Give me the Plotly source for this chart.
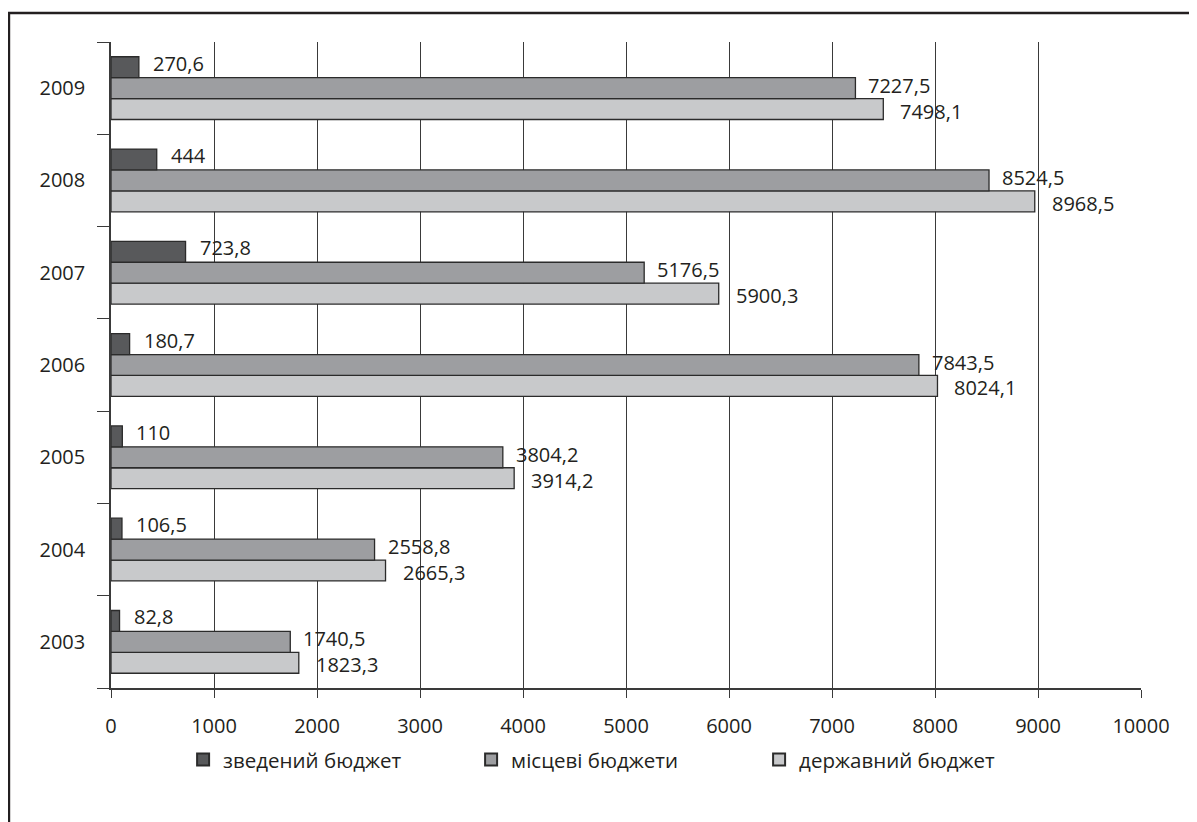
import plotly.graph_objects as go

years = ["2003", "2004", "2005", "2006", "2007", "2008", "2009"]
zvedenyi = [82.8, 106.5, 110, 180.7, 723.8, 444, 270.6]
mistsevi = [1740.5, 2558.8, 3804.2, 7843.5, 5176.5, 8524.5, 7227.5]
derzhavnyi = [1823.3, 2665.3, 3914.2, 8024.1, 5900.3, 8968.5, 7498.1]
series_names = ["зведений бюджет", "місцеві бюджети", "державний бюджет"]
x_ticks = [0, 1000, 2000, 3000, 4000, 5000, 6000, 7000, 8000, 9000, 10000]

FONT = "Open Sans"
TXT = "#231f20"
W, H = 1197, 822
OFF = 8  # page body offset
L, T = 111 - OFF, 42 - OFF
PW, PH = 1030, 646
R, B = W - L - PW, H - T - PH


def fmt(v):
    return f"{v:g}".replace(".", ",")


fig = go.Figure()
# bottom-to-top order inside each group: державний, місцеві, зведений
traces = [
    (series_names[2], derzhavnyi, "#c8c9cb", 3),
    (series_names[1], mistsevi, "#9d9ea1", 2),
    (series_names[0], zvedenyi, "#58595b", 1),
]
for name, vals, color, rank in traces:
    fig.add_trace(go.Bar(
        y=years, x=vals, name=name, orientation="h",
        marker=dict(color=color, line=dict(color="#2b2b2b", width=1.3)),
        legendrank=rank,
    ))

# value labels
bar_px = PH / len(years) * 0.68 / 3
offsets = {0: (bar_px + 4, 12), 1: (3, 11), 2: (-bar_px - 2, 15)}
for si, vals in enumerate([zvedenyi, mistsevi, derzhavnyi]):
    ys, xs = offsets[si]
    for idx, v in enumerate(vals):
        fig.add_annotation(
            x=v, y=idx, xref="x", yref="y", text=fmt(v), showarrow=False,
            xanchor="left", yanchor="middle", xshift=xs, yshift=ys,
            font=dict(family=FONT, size=20, color=TXT),
        )

# outer frame (cropped: only left and top edges visible)
fx0, fy0 = 9 - OFF, 13 - OFF
fig.add_shape(
    type="rect", xref="paper", yref="paper",
    x0=(fx0 - L) / PW, x1=(W + 30 - L) / PW,
    y0=(T + PH - (H + 30)) / PH, y1=(T + PH - fy0) / PH,
    line=dict(color=TXT, width=2.4), fillcolor="rgba(0,0,0,0)", layer="below",
)

fig.update_layout(
    width=W, height=H,
    margin=dict(l=L, r=R, t=T, b=B, autoexpand=False),
    paper_bgcolor="white", plot_bgcolor="white",
    barmode="group", bargap=0.32, bargroupgap=0,
    font=dict(family=FONT, size=20, color=TXT),
    showlegend=True,
    legend=dict(
        orientation="h", x=0.07, xanchor="left", y=-0.111, yanchor="middle",
        font=dict(family=FONT, size=20.5, color=TXT),
        entrywidth=243, entrywidthmode="pixels", itemsizing="constant",
    ),
    xaxis=dict(
        range=[0, 10000], tickvals=x_ticks, ticktext=[str(t) for t in x_ticks],
        showgrid=True, gridcolor="#3a3a3a", gridwidth=1.3,
        showline=True, linecolor="#3a3a3a", linewidth=1.5,
        ticks="outside", ticklen=8, tickcolor="#3a3a3a", tickwidth=1.3,
        ticklabelstandoff=11, zeroline=False, fixedrange=True,
        tickfont=dict(family=FONT, size=20, color=TXT),
    ),
    yaxis=dict(
        type="category", categoryorder="array", categoryarray=years,
        range=[-0.5, len(years) - 0.5],
        showline=True, linecolor="#3a3a3a", linewidth=1.5,
        ticks="outside", ticklen=12, tickcolor="#3a3a3a", tickwidth=1.3,
        tickson="boundaries", showgrid=False, ticklabelstandoff=20,
        tickfont=dict(family=FONT, size=20, color=TXT), fixedrange=True,
    ),
)

fig.write_html("out.html")
